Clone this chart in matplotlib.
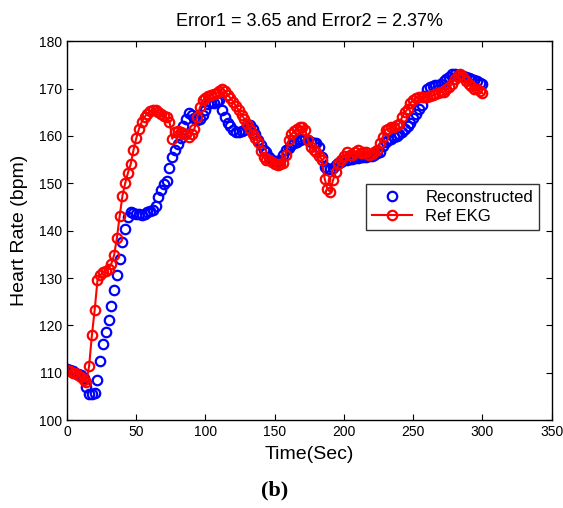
import numpy as np
import matplotlib
matplotlib.use("Agg")
import matplotlib.pyplot as plt

plt.rcParams["font.family"] = ["Liberation Sans", "DejaVu Sans"]

# sample times (sec), one reading every 2 s
t = [0, 2, 4, 6, 8, 10, 12, 14, 16, 18, 20, 22, 24, 26, 28, 30, 32, 34, 36, 38,
     40, 42, 44, 46, 48, 50, 52, 54, 56, 58, 60, 62, 64, 66, 68, 70, 72, 74, 76, 78,
     80, 82, 84, 86, 88, 90, 92, 94, 96, 98, 100, 102, 104, 106, 108, 110, 112, 114, 116, 118,
     120, 122, 124, 126, 128, 130, 132, 134, 136, 138, 140, 142, 144, 146, 148, 150, 152, 154, 156, 158,
     160, 162, 164, 166, 168, 170, 172, 174, 176, 178, 180, 182, 184, 186, 188, 190, 192, 194, 196, 198,
     200, 202, 204, 206, 208, 210, 212, 214, 216, 218, 220, 222, 224, 226, 228, 230, 232, 234, 236, 238,
     240, 242, 244, 246, 248, 250, 252, 254, 256, 258, 260, 262, 264, 266, 268, 270, 272, 274, 276, 278,
     280, 282, 284, 286, 288, 290, 292, 294, 296, 298, 300]

ref_ekg = [110.5, 110.3, 110, 110, 109.5, 109, 108.5, 108, 111.5, 118,
           123.3, 129.5, 130.6, 131.2, 131.5, 132, 133, 134.8, 138.4, 143,
           147.3, 150, 152.2, 154, 157, 159.5, 161.5, 163, 164, 164.7,
           165.2, 165.4, 165.4, 165, 164.7, 164.3, 163.9, 163, 159.4, 160.8,
           161, 160.8, 160.5, 160.5, 159.8, 160.5, 161.5, 164, 166, 167.5,
           168, 168.4, 168.6, 168.9, 169, 169.5, 170, 169.5, 168.6, 168,
           167.2, 166.3, 165.4, 164.5, 163.6, 162.5, 161.5, 160.5, 159.5, 158.7,
           156.8, 155.5, 155, 155, 154.5, 154, 153.8, 154, 154.2, 156,
           159.1, 160.3, 161, 161.5, 161.9, 161.8, 161.2, 159.1, 157.7, 157,
           156.6, 155.8, 155, 151, 148.8, 148.2, 150.6, 152.3, 154, 154.9,
           155.8, 156.6, 156, 156, 156.6, 157, 156.4, 156.6, 156.6, 156,
           156.2, 156.5, 157, 158.5, 159.8, 161.3, 161.5, 161.8, 161.9, 162.2,
           162.6, 164, 165, 165.7, 167, 167.6, 168, 168.2, 168.2, 168.2,
           168.3, 168.4, 168.6, 168.8, 169, 169.2, 169.3, 169.8, 170.3, 171,
           172, 172.7, 173.1, 172.4, 171.5, 171, 170.5, 170, 169.8, 169.4, 169]

reconstructed = [110.7, 110.5, 110.3, 110, 109.8, 109.5, 108.8, 107, 105.6, 105.6,
                 105.8, 108.5, 112.4, 116, 118.6, 121.2, 124, 127.5, 130.7, 134,
                 137.5, 140.3, 142.8, 144, 143.8, 143.6, 143.5, 143.4, 143.6, 143.9,
                 144.2, 144.3, 145.3, 147, 148.5, 149.8, 150.5, 153.2, 155.5, 157,
                 158.3, 159.5, 162, 163.5, 164.8, 164.5, 163.8, 163.3, 163.5, 164.5,
                 165.5, 166.8, 167.2, 167, 167.3, 167.5, 165.5, 164, 162.7, 162,
                 161.2, 160.8, 160.8, 161, 161.3, 161.8, 162.2, 161.5, 160.5, 159.2,
                 158, 157, 156.5, 155.5, 155, 154.7, 154.7, 155, 156, 157,
                 157.5, 158, 158.5, 158.8, 159.2, 159.4, 159.3, 159.1, 158.8, 158.6,
                 158.5, 157.7, 155.5, 153.5, 153.1, 153, 153.2, 153.8, 154.2, 154.5,
                 154.9, 155, 155.2, 155.2, 155.3, 155.4, 155.5, 155.6, 155.6, 155.7,
                 155.8, 156, 156.3, 156.6, 157.8, 158.7, 159.1, 159.4, 159.7, 159.9,
                 160.3, 160.8, 161.4, 162, 162.8, 163.8, 164.7, 165.6, 166.5, 168.5,
                 169.8, 170.3, 170.5, 170.7, 170.8, 171, 171.5, 172, 172.5, 173,
                 173, 172.9, 172.8, 172.6, 172.4, 172.2, 172, 171.7, 171.5, 171.2, 171]

fig = plt.figure(figsize=(5.63, 5.08), dpi=100)
ax = fig.add_axes([0.119, 0.173, 0.861, 0.746])

ax.plot(t, reconstructed, "o", color="blue", mfc="none", ms=6.8, mew=1.6,
        label="Reconstructed")
ax.plot(t, ref_ekg, "-o", color="red", mfc="none", ms=6.8, mew=1.6, lw=1.5,
        label="Ref EKG")

ax.set_xlim(0, 350)
ax.set_ylim(100, 180)
ax.set_xticks(range(0, 351, 50))
ax.set_yticks(range(100, 181, 10))
ax.tick_params(direction="in", top=True, right=True, labelsize=10, length=4)
for s in ax.spines.values():
    s.set_linewidth(1.0)

ax.set_xlabel("Time(Sec)", fontsize=14, labelpad=5)
ax.set_ylabel("Heart Rate (bpm)", fontsize=14, labelpad=8)
ax.set_title("Error1 = 3.65 and Error2 = 2.37%", fontsize=13, pad=11)

leg = ax.legend(loc="upper left", bbox_to_anchor=(0.6, 0.645), fontsize=12,
                frameon=True, fancybox=False, edgecolor="black",
                handlelength=2.4, borderpad=0.35, labelspacing=0.25)
leg.get_frame().set_linewidth(1.0)

fig.text(0.488, 0.035, "(b)", fontsize=16, fontweight="bold", family="Liberation Serif",
         ha="center", va="center")

fig.savefig("out.png", dpi=100)
